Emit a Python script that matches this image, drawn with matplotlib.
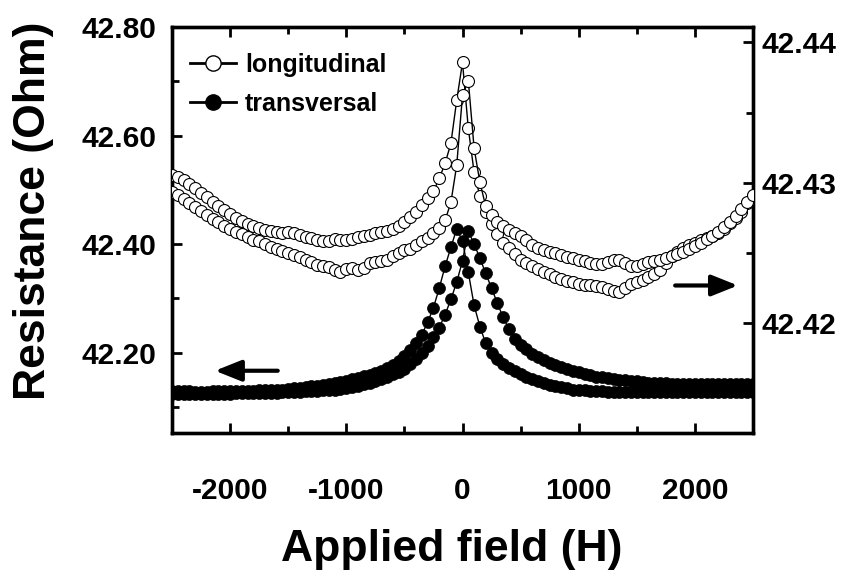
import matplotlib
matplotlib.use("Agg")
import matplotlib.pyplot as plt
from matplotlib.ticker import MultipleLocator, FormatStrFormatter
from matplotlib.lines import Line2D

plt.rcParams['font.family'] = ['Liberation Sans', 'DejaVu Sans']
plt.rcParams['font.weight'] = 'bold'
plt.rcParams['axes.unicode_minus'] = False

# Applied field (Oe), sweep points
field = [-2500, -2450, -2400, -2350, -2300, -2250, -2200, -2150, -2100, -2050,
         -2000, -1950, -1900, -1850, -1800, -1750, -1700, -1650, -1600, -1550,
         -1500, -1450, -1400, -1350, -1300, -1250, -1200, -1150, -1100, -1050,
         -1000, -950, -900, -850, -800, -750, -700, -650, -600, -550,
         -500, -450, -400, -350, -300, -250, -200, -150, -100, -50,
         0, 50, 100, 150, 200, 250, 300, 350, 400, 450,
         500, 550, 600, 650, 700, 750, 800, 850, 900, 950,
         1000, 1050, 1100, 1150, 1200, 1250, 1300, 1350, 1400, 1450,
         1500, 1550, 1600, 1650, 1700, 1750, 1800, 1850, 1900, 1950,
         2000, 2050, 2100, 2150, 2200, 2250, 2300, 2350, 2400, 2450,
         2500]

# transversal (left axis), descending-field branch
trans_down = [42.130, 42.130, 42.129, 42.129, 42.128, 42.128, 42.128, 42.129, 42.129, 42.129,
              42.129, 42.130, 42.130, 42.130, 42.130, 42.131, 42.131, 42.132, 42.132, 42.132,
              42.133, 42.134, 42.135, 42.136, 42.138, 42.139, 42.141, 42.143, 42.144, 42.146,
              42.148, 42.151, 42.154, 42.157, 42.159, 42.163, 42.167, 42.172, 42.178, 42.185,
              42.194, 42.204, 42.217, 42.233, 42.256, 42.283, 42.319, 42.359, 42.394, 42.428,
              42.406, 42.348, 42.287, 42.248, 42.217, 42.200, 42.189, 42.180, 42.172, 42.166,
              42.160, 42.156, 42.151, 42.147, 42.144, 42.141, 42.138, 42.136, 42.134, 42.132,
              42.131, 42.131, 42.130, 42.129, 42.129, 42.128, 42.128, 42.128, 42.128, 42.128,
              42.128, 42.128, 42.127, 42.127, 42.128, 42.128, 42.127, 42.127, 42.127, 42.127,
              42.127, 42.127, 42.127, 42.127, 42.127, 42.127, 42.127, 42.127, 42.127, 42.127,
              42.127]

# transversal (left axis), ascending-field branch
trans_up = [42.124, 42.124, 42.124, 42.124, 42.124, 42.124, 42.124, 42.124, 42.124, 42.124,
            42.124, 42.125, 42.125, 42.125, 42.125, 42.126, 42.126, 42.126, 42.126, 42.127,
            42.127, 42.128, 42.128, 42.129, 42.129, 42.130, 42.131, 42.132, 42.132, 42.133,
            42.135, 42.137, 42.139, 42.142, 42.144, 42.148, 42.152, 42.156, 42.160, 42.165,
            42.170, 42.179, 42.188, 42.200, 42.213, 42.228, 42.246, 42.270, 42.298, 42.330,
            42.369, 42.424, 42.400, 42.374, 42.346, 42.319, 42.291, 42.265, 42.243, 42.226,
            42.215, 42.206, 42.198, 42.192, 42.186, 42.181, 42.177, 42.173, 42.169, 42.167,
            42.164, 42.161, 42.158, 42.156, 42.155, 42.153, 42.151, 42.150, 42.149, 42.148,
            42.147, 42.146, 42.145, 42.144, 42.144, 42.144, 42.143, 42.143, 42.143, 42.143,
            42.143, 42.143, 42.143, 42.143, 42.143, 42.143, 42.143, 42.143, 42.143, 42.143,
            42.143]

# longitudinal (right axis), branch A
long_a = [42.43053, 42.43039, 42.43018, 42.42989, 42.42961, 42.42925, 42.42897, 42.42861, 42.42833, 42.42804,
          42.42776, 42.42747, 42.42726, 42.42705, 42.42690, 42.42676, 42.42662, 42.42655, 42.42648, 42.42641,
          42.42648, 42.42641, 42.42626, 42.42612, 42.42605, 42.42591, 42.42584, 42.42584, 42.42598, 42.42591,
          42.42591, 42.42598, 42.42612, 42.42619, 42.42626, 42.42641, 42.42648, 42.42655, 42.42669, 42.42690,
          42.42719, 42.42754, 42.42790, 42.42840, 42.42890, 42.42940, 42.43032, 42.43139, 42.43281, 42.43587,
          42.43858, 42.43388, 42.43075, 42.42904, 42.42790, 42.42705, 42.42633, 42.42576, 42.42534, 42.42491,
          42.42455, 42.42427, 42.42406, 42.42384, 42.42363, 42.42349, 42.42334, 42.42313, 42.42299, 42.42292,
          42.42278, 42.42270, 42.42270, 42.42263, 42.42256, 42.42242, 42.42228, 42.42221, 42.42249, 42.42278,
          42.42292, 42.42306, 42.42327, 42.42349, 42.42377, 42.42427, 42.42477, 42.42505, 42.42534, 42.42555,
          42.42576, 42.42591, 42.42605, 42.42619, 42.42641, 42.42669, 42.42712, 42.42747, 42.42790, 42.42854,
          42.42904]

# longitudinal (right axis), branch B
long_b = [42.42932, 42.42911, 42.42883, 42.42854, 42.42826, 42.42797, 42.42769, 42.42740, 42.42719, 42.42690,
          42.42669, 42.42648, 42.42633, 42.42612, 42.42591, 42.42584, 42.42562, 42.42541, 42.42527, 42.42512,
          42.42498, 42.42484, 42.42470, 42.42448, 42.42434, 42.42413, 42.42406, 42.42399, 42.42377, 42.42363,
          42.42384, 42.42391, 42.42377, 42.42391, 42.42427, 42.42434, 42.42441, 42.42455, 42.42477, 42.42498,
          42.42520, 42.42527, 42.42555, 42.42584, 42.42605, 42.42641, 42.42676, 42.42733, 42.42861, 42.43125,
          42.43623, 42.43729, 42.43246, 42.43004, 42.42833, 42.42769, 42.42719, 42.42690, 42.42662, 42.42641,
          42.42619, 42.42591, 42.42555, 42.42534, 42.42520, 42.42505, 42.42498, 42.42484, 42.42470, 42.42463,
          42.42448, 42.42441, 42.42427, 42.42420, 42.42420, 42.42434, 42.42448, 42.42448, 42.42427, 42.42406,
          42.42406, 42.42420, 42.42434, 42.42441, 42.42448, 42.42463, 42.42477, 42.42491, 42.42505, 42.42527,
          42.42548, 42.42576, 42.42598, 42.42619, 42.42648, 42.42683, 42.42719, 42.42762, 42.42811, 42.42861,
          42.42911]

labels = ["longitudinal", "transversal"]

fig = plt.figure(figsize=(8.47, 5.76), dpi=100)
ax = fig.add_axes([172/847, 1-433/576, 581/847, 406/576])
ax2 = ax.twinx()

ms = 8.6
for ys in (trans_down, trans_up):
    ax.plot(field, ys, '-o', color='black', lw=1.0, ms=ms, mfc='black', mec='black',
            mew=0.5, zorder=2)
for ys in (long_a, long_b):
    ax2.plot(field, ys, '-o', color='black', lw=1.0, ms=ms, mfc='white', mec='black',
             mew=0.8, zorder=3)

ax.set_xlim(-2500, 2500)
ax.set_ylim(42.052, 42.80)
ax2.set_ylim(42.4122, 42.4411)

ax.xaxis.set_major_locator(MultipleLocator(1000))
ax.xaxis.set_minor_locator(MultipleLocator(500))
ax.yaxis.set_major_locator(MultipleLocator(0.2))
ax.yaxis.set_minor_locator(MultipleLocator(0.1))
ax.yaxis.set_major_formatter(FormatStrFormatter('%.2f'))
ax2.yaxis.set_major_locator(MultipleLocator(0.01))
ax2.yaxis.set_minor_locator(MultipleLocator(0.005))
ax2.yaxis.set_major_formatter(FormatStrFormatter('%.2f'))

tick_fs = 21.5
ax.tick_params(axis='x', which='both', direction='in', top=True, bottom=True,
               labelsize=tick_fs, pad=32)
ax.tick_params(axis='y', which='both', direction='in', left=True, right=False,
               labelsize=tick_fs, pad=11)
ax2.tick_params(axis='y', which='both', direction='in', right=True, left=False,
                labelsize=tick_fs, pad=6)
for a in (ax, ax2):
    a.tick_params(which='major', length=7, width=2)
    a.tick_params(which='minor', length=5, width=2)
    for s in a.spines.values():
        s.set_linewidth(2.4)

fig.text(33/847, 1-211/576, "Resistance (Ohm)", rotation=90, ha='center', va='center',
         fontsize=32, fontweight='bold')
fig.text(452/847, 1-550/576, "Applied field (H)", ha='center', va='center',
         fontsize=32, fontweight='bold')

handles = [
    Line2D([], [], color='black', lw=2, marker='o', ms=11, mfc='white', mec='black', mew=1.0),
    Line2D([], [], color='black', lw=2, marker='o', ms=11, mfc='black', mec='black'),
]
ax2.legend(handles, labels, loc='upper left', bbox_to_anchor=(0.031, 0.937),
           frameon=False, handlelength=1.84, handletextpad=0.36,
           labelspacing=0.62, borderpad=0, borderaxespad=0,
           prop={'weight': 'bold', 'size': 18})

arrow = dict(arrowstyle='-|>,head_length=0.8,head_width=0.32', lw=3, color='black',
             shrinkA=0, shrinkB=0, mutation_scale=20)
ax.annotate('', xy=(-2130, 42.1667), xytext=(-1590, 42.1667), arrowprops=arrow)
ax2.annotate('', xy=(2370, 42.4227), xytext=(1830, 42.4227), arrowprops=arrow)

fig.savefig("out.png", dpi=100, facecolor='white')
